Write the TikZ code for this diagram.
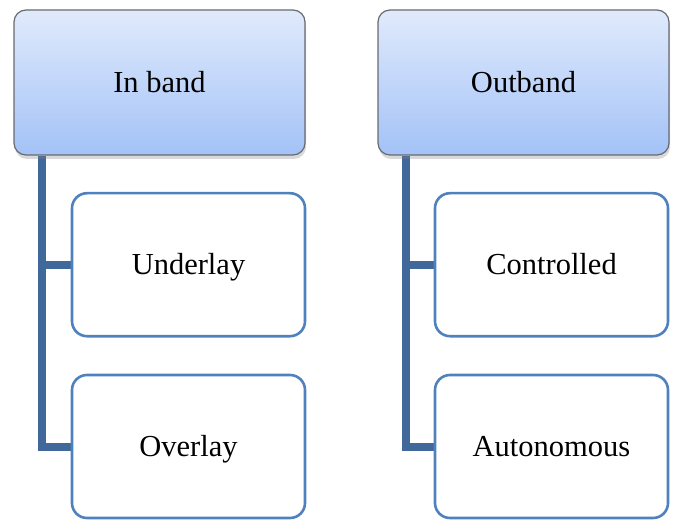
\documentclass[tikz,border=0pt]{standalone}
\usepackage{fontspec}
\setmainfont{Liberation Serif}
\usepackage{tikz}
\usetikzlibrary{positioning, shadows, backgrounds}

\definecolor{headtop}{RGB}{224,234,252}
\definecolor{headbottom}{RGB}{163,194,247}
\definecolor{headline}{RGB}{105,105,112}
\definecolor{itemline}{RGB}{79,129,189}
\definecolor{trunkblue}{RGB}{65,104,154}

\tikzset{
    head/.style={rectangle, rounded corners=12pt, draw=headline, line width=1.2pt,
        top color=headtop, bottom color=headbottom,
        minimum width=291pt, minimum height=145pt,
        text height=20.2pt, text depth=0pt,
        drop shadow={opacity=0.3, shadow xshift=1pt, shadow yshift=-4pt},
        font=\fontsize{30.5}{36}\selectfont},
    item/.style={rectangle, rounded corners=15pt, draw=itemline, line width=2.6pt,
        fill=white, minimum width=233pt, minimum height=143pt,
        text height=20.2pt, text depth=0pt,
        font=\fontsize{30.5}{36}\selectfont},
    trunk/.style={draw=trunkblue, line width=8pt},
}

\begin{document}
\begin{tikzpicture}[x=1pt, y=-1pt]
        \useasboundingbox (0, 0) rectangle (685, 521);

        \node[head] (inband) at (159.5, 82.5) {In band};
        \node[head] (outband) at (523.5, 82.5) {Outband};
        \node[item] (underlay) at (188.5, 264.7) {Underlay};
        \node[item] (overlay) at (188.5, 446.5) {Overlay};
        \node[item] (controlled) at (551.5, 264.7) {Controlled};
        \node[item] (autonomous) at (551.5, 446.5) {Autonomous};

        \coordinate (inband-trunk) at ([xshift=29pt]inband.south west);
        \coordinate (outband-trunk) at ([xshift=29pt]outband.south west);

        \begin{scope}[on background layer]
            \draw[trunk] (inband-trunk) |- (underlay.west);
            \draw[trunk] (inband-trunk) |- (overlay.west);
            \draw[trunk] (outband-trunk) |- (controlled.west);
            \draw[trunk] (outband-trunk) |- (autonomous.west);
        \end{scope}
    \end{tikzpicture}
\end{document}
